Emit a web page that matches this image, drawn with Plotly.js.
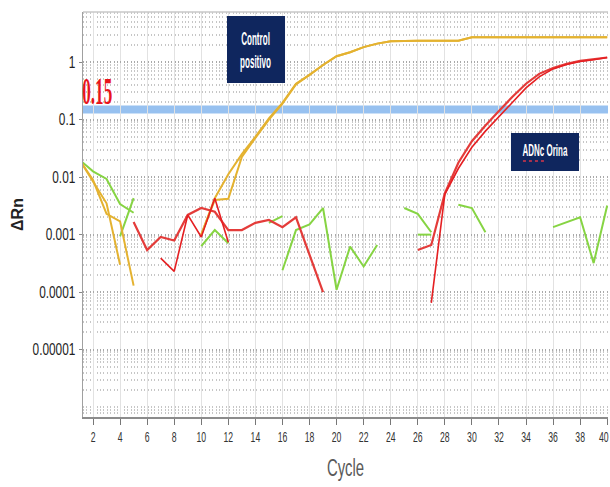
<!DOCTYPE html>
<html>
<head>
<meta charset="utf-8">
<script src="https://cdn.plot.ly/plotly-3.0.1.min.js"></script>
<style>
  html, body { margin: 0; padding: 0; background: #ffffff; }
  #chart { width: 610px; height: 487px; }
</style>
</head>
<body>
<div id="chart"></div>
<script>
// Amplification plot: ΔRn per cycle, log scale. null = no positive signal at that cycle.
const cycles = Array.from({length: 40}, (_, i) => i + 1);

// Positive control wells (yellow)
const controlA = [0.020, 0.0085, 0.0035, 0.0003, null, null, null, null, null, 0.001,
                  0.0043, 0.0112, 0.025, 0.05, 0.105, 0.195, 0.42, 0.60, 0.89, 1.26,
                  1.48, 1.82, 2.09, 2.30, 2.35, 2.35, 2.35, 2.35, 2.35, 2.69,
                  2.69, 2.69, 2.69, 2.69, 2.69, 2.69, 2.69, 2.69, 2.69, 2.69];
const controlB = [0.020, 0.0089, 0.0023, 0.0017, 0.00013, null, null, null, null, 0.001,
                  0.0040, 0.0042, 0.0224, 0.048, 0.10, 0.19, 0.41, 0.60, 0.89, 1.26,
                  1.48, 1.82, 2.09, 2.30, 2.35, 2.35, 2.35, 2.35, 2.35, 2.69,
                  2.69, 2.69, 2.69, 2.69, 2.69, 2.69, 2.69, 2.69, 2.69, 2.69];

// Urine cDNA wells (red)
const orinaA = [null, null, null, null, 0.00166, 0.00054, 0.00091, 0.00079, 0.0022, 0.0029,
                0.0025, 0.0012, 0.0012, 0.0016, 0.0018, 0.00135, 0.0020, 0.00043, 0.0001, null,
                null, null, null, null, null, 0.00054, 0.00066, 0.0052, 0.0178, 0.042,
                0.079, 0.141, 0.25, 0.42, 0.63, 0.79, 0.93, 1.05, 1.12, 1.20];
const orinaB = [null, null, null, null, null, null, 0.00039, 0.00023, 0.0022, 0.00091,
                0.0043, 0.00074, null, null, null, null, null, null, null, null,
                null, null, null, null, null, null, 0.000065, 0.0050, 0.0141, 0.033,
                0.063, 0.112, 0.20, 0.355, 0.56, 0.76, 0.91, 1.02, 1.10, 1.20];

// Negative wells (green)
const negA = [0.020, 0.0126, 0.0093, 0.0034, 0.0024, null, null, null, null, 0.00063,
              0.0012, 0.00071, null, null, null, 0.00024, 0.0012, 0.0015, 0.0029, 0.00011,
              0.00062, 0.00028, 0.00066, null, 0.0029, 0.0023, 0.0011, null, 0.0033, 0.0029,
              0.0011, null, null, null, null, 0.00135, 0.00166, 0.0020, 0.00032, 0.0032];
const negB = [null, null, null, 0.00093, 0.0043, null, null, null, null, null,
              null, null, null, null, 0.0016, 0.0021, null, null, null, null,
              null, null, null, null, null, 0.0010, 0.0010, null, null, null,
              null, null, null, null, null, null, null, null, null, null];

const threshold = 0.15;

const xTickVals = [2, 4, 6, 8, 10, 12, 14, 16, 18, 20, 22, 24, 26, 28, 30, 32, 34, 36, 38, 40];
const xTickText = ['2', '4', '6', '8', '10', '12', '14', '16', '18', '20', '22', '24', '26', '28', '30', '32', '34', '36', '38', '40'];
const yTickVals = [1, 0.1, 0.01, 0.001, 0.0001, 0.00001];
const yTickText = ['1', '0.1', '0.01', '0.001', '0.0001', '0.00001'];

const SANS = '"Liberation Sans", Arial, sans-serif';
const SERIF = '"Liberation Serif", "Times New Roman", serif';
const YELLOW = '#e4b230', RED = '#e43c3a', RED2 = '#e51f22', GREEN = '#86d443';
const NAVY = '#0f265e';

function well(y, color, width) {
  return {
    x: cycles, y: y, type: 'scatter', mode: 'lines',
    line: {color: color, width: width}, connectgaps: false,
    hoverinfo: 'x+y', showlegend: false
  };
}

const data = [
  well(negA, GREEN, 2),
  well(negB, GREEN, 2),
  well(controlA, YELLOW, 2),
  well(controlB, YELLOW, 2),
  well(orinaA, RED, 2.2),
  well(orinaB, RED2, 1.6)
];

const layout = {
  width: 610, height: 487,
  margin: {l: 83, r: 2, t: 12, b: 70},
  paper_bgcolor: '#ffffff', plot_bgcolor: '#ffffff',
  showlegend: false,
  font: {family: SANS, color: '#222'},
  xaxis: {
    type: 'linear', range: [1.26, 40.06],
    tickmode: 'array', tickvals: xTickVals, ticktext: xTickText,
    ticks: 'outside', ticklen: 6, tickcolor: '#777', tickwidth: 1,
    tickfont: {family: SANS, size: 14, color: '#333'},
    ticklabeloverflow: 'allow',
    showgrid: true, gridcolor: '#e2e2e2', gridwidth: 1,
    showline: true, linecolor: '#8c8c8c', linewidth: 2, mirror: false,
    zeroline: false,
    title: {text: 'Cycle', font: {family: SANS, size: 24, color: '#5a5a5a'}, standoff: 15}
  },
  yaxis: {
    type: 'log', range: [-6.17, 0.87],
    tickmode: 'array', tickvals: yTickVals, ticktext: yTickText,
    ticks: 'outside', ticklen: 3, tickcolor: '#888',
    tickfont: {family: SANS, size: 16, color: '#222'},
    showgrid: true, gridcolor: '#a9a9a9', gridwidth: 2, griddash: '1px,2.4px',
    minor: {dtick: 'D1', showgrid: true, gridcolor: '#c6c6c6', gridwidth: 2, griddash: '1px,2.4px'},
    showline: true, linecolor: '#a0a0a0', linewidth: 1.5,
    zeroline: false,
    title: {text: 'ΔRn', font: {family: SANS, size: 16, color: '#222', weight: 'bold'}, standoff: 0}
  },
  shapes: [
    // Detection threshold across the whole cycle range
    {type: 'line', xref: 'paper', x0: 0, x1: 1, yref: 'y', y0: threshold, y1: threshold,
     line: {color: '#97c1f0', width: 8}, layer: 'below'},
    // plot frame (top)
    {type: 'line', xref: 'paper', yref: 'paper', x0: 0, x1: 1, y0: 1, y1: 1,
     line: {color: '#c8c8c8', width: 1.5}},
    // label boxes
    {type: 'rect', xref: 'paper', yref: 'paper', x0: 0.2743, x1: 0.3848, y0: 0.8247, y1: 0.9901,
     fillcolor: NAVY, line: {width: 0}},
    {type: 'rect', xref: 'paper', yref: 'paper', x0: 0.8152, x1: 0.9448, y0: 0.6074, y1: 0.7012,
     fillcolor: NAVY, line: {width: 0}},
    // wavy spell-check mark under "ADNc"
    {type: 'line', xref: 'paper', yref: 'paper', x0: 0.838, x1: 0.88, y0: 0.632, y1: 0.632,
     line: {color: '#d9364a', width: 1.5, dash: 'dot'}}
  ],
  annotations: [
    {text: String(threshold), xref: 'paper', yref: 'paper', x: 0.0276, y: 0.805,
     xanchor: 'center', yanchor: 'middle', showarrow: false,
     font: {family: SERIF, size: 38, color: '#e8141c', weight: 'bold'}},
    {text: 'Control<br>positivo', xref: 'paper', yref: 'paper', x: 0.3295, y: 0.905,
     xanchor: 'center', yanchor: 'middle', showarrow: false,
     font: {family: SANS, size: 18, color: '#ffffff', weight: 'bold'}},
    {text: 'ADNc Orina', xref: 'paper', yref: 'paper', x: 0.88, y: 0.657,
     xanchor: 'center', yanchor: 'middle', showarrow: false,
     font: {family: SANS, size: 16, color: '#ffffff', weight: 'bold'}}
  ]
};

// Horizontally condense text elements around their own anchor point.
function condense(selector, s) {
  document.querySelectorAll('#chart ' + selector).forEach(function (t) {
    const bb = t.getBBox();
    const anchor = t.getAttribute('text-anchor') || 'start';
    const ax = anchor === 'end' ? bb.x + bb.width : (anchor === 'middle' ? bb.x + bb.width / 2 : bb.x);
    const tr = t.getAttribute('transform') || '';
    t.setAttribute('transform', tr + ' translate(' + ax + ',0) scale(' + s + ',1) translate(' + (-ax) + ',0)');
  });
}

Plotly.newPlot('chart', data, layout, {staticPlot: true, displayModeBar: false}).then(function () {
  condense('g.xtick text', 0.62);
  condense('g.ytick text', 0.74);
  condense('text.xtitle', 0.62);
  condense('g.annotation[data-index="0"] text.annotation-text', 0.45);
  condense('g.annotation[data-index="1"] text.annotation-text', 0.45);
  condense('g.annotation[data-index="2"] text.annotation-text', 0.5);

  // keep the last cycle label inside the page
  const W = document.getElementById('chart').getBoundingClientRect().right;
  document.querySelectorAll('#chart g.xtick text').forEach(function (t) {
    const r = t.getBoundingClientRect();
    if (r.right > W - 1) {
      t.setAttribute('transform', 'translate(' + (W - 1 - r.right) + ',0) ' + (t.getAttribute('transform') || ''));
    }
  });

  // nudge the ΔRn title toward the tick labels
  const yt = document.querySelector('#chart text.ytitle');
  if (yt) yt.setAttribute('transform', 'translate(9,0) ' + (yt.getAttribute('transform') || ''));
});
</script>
</body>
</html>
